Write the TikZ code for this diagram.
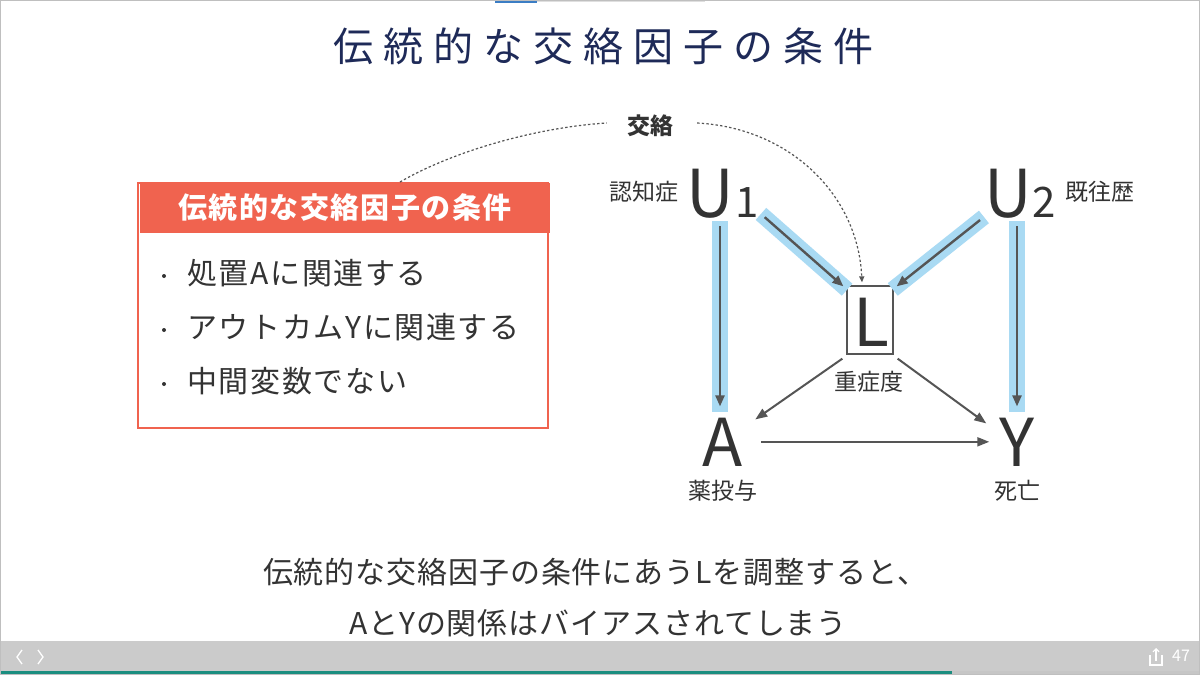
\documentclass[tikz,border=0pt]{standalone}
\usepackage{fontspec}
\setmainfont{Noto Sans CJK JP}
\newfontfamily\titlefont{Noto Sans CJK JP}[LetterSpace=25]
\newfontfamily\headfont{Noto Sans CJK JP}[LetterSpace=5]
\newfontfamily\bulfont{Noto Sans CJK JP}[LetterSpace=5.5]
\newfontfamily\botfont{Noto Sans CJK JP}[LetterSpace=3]
\usetikzlibrary{arrows.meta,calc}
\definecolor{arrgray}{HTML}{555555}
\definecolor{hlblue}{HTML}{A9DAF3}
\definecolor{txt}{HTML}{333333}
\definecolor{navy}{HTML}{1E2A58}
\definecolor{boxred}{HTML}{F0634F}
\definecolor{barg}{HTML}{CBCBCB}
\definecolor{teal}{HTML}{1B8E80}
\definecolor{dotgray}{HTML}{555555}
\definecolor{topblue}{HTML}{3B7DC4}
\begin{document}
\begin{tikzpicture}[x=1pt,y=-1pt,
  arr/.style={draw=arrgray, line width=2.4pt, -{Triangle[length=11pt,width=9pt]}},
  thin/.style={draw=arrgray, line width=2pt, -{Triangle[length=12pt,width=9pt]}},
  hl/.style={draw=hlblue, line width=16pt, shorten <=-5pt, shorten >=-5pt},
  big/.style={font=\fontsize{66}{66}\selectfont, text=txt, inner sep=0pt},
  sub/.style={font=\fontsize{42}{42}\selectfont, text=txt, inner sep=0pt},
  lab/.style={font=\fontsize{23}{23}\selectfont, text=txt, inner sep=0pt},
  bul/.style={font=\bulfont\fontsize{30}{30}\selectfont, text=txt, inner sep=0pt, anchor=west},
  bdot/.style={circle, fill=txt, inner sep=0pt, minimum size=4pt},
  dot/.style={draw=dotgray, line width=1.2pt, dash pattern=on 2.4pt off 2.2pt},
]
\useasboundingbox (0,0) rectangle (1200,675);
\fill[white] (0,0) rectangle (1200,675);
% top indicator
\fill[topblue] (495,0) rectangle (537,3);
\fill[gray!25] (537,0) rectangle (705,1.5);
% title
\node[font=\titlefont\fontsize{40}{40}\selectfont, text=navy, inner sep=0pt] (title) at (603,46) {伝統的な交絡因子の条件};
% left box
\node[draw=boxred, line width=2pt, minimum width=410pt, minimum height=245pt, inner sep=0pt] (cbox) at (343,305.5) {};
\node[fill=boxred, minimum width=410pt, minimum height=50pt, inner sep=0pt, text=white, font=\headfont\bfseries\fontsize{29}{29}\selectfont] (chead) at (345,208) {伝統的な交絡因子の条件};
\node[bdot] (b1d) at (164,276) {};
\node[bul] (b1) at (187,273) {処置Aに関連する};
\node[bdot] (b2d) at (164,330) {};
\node[bul] (b2) at (187,327) {アウトカムYに関連する};
\node[bdot] (b3d) at (164,384) {};
\node[bul] (b3) at (187,381) {中間変数でない};
% DAG nodes
\node[big, anchor=base] (U1) at (710,217) {U};
\node[sub, anchor=base west] (one) at (735,217) {1};
\node[lab, anchor=east] (n1) at (679,192) {認知症};
\node[big, anchor=base] (U2) at (1008,217) {U};
\node[sub, anchor=base west] (two) at (1032,217) {2};
\node[lab, anchor=west] (n2) at (1065,192) {既往歴};
\node[draw=arrgray, line width=1.3pt, minimum width=46pt, minimum height=68pt, inner sep=0pt] (Lbox) at (870,320) {};
\node[big, anchor=base] (L) at (871,346) {L};
\node[lab] (nL) at (869,382) {重症度};
\node[big, anchor=base] (A) at (723,466) {A};
\node[lab] (nA) at (723,491) {薬投与};
\node[big, anchor=base] (Y) at (1017,466) {Y};
\node[lab] (nY) at (1017,491) {死亡};
\node[font=\bfseries\fontsize{23}{23}\selectfont, text=txt, inner sep=0pt] (kou) at (650,126) {交絡};
% highlights
\draw[hl] ($(U1.south -| A.north)+(-3,8)$) -- ($(A.north)+(-3,-10)$);
\draw[hl] ($(U2.south -| Y.north)+(0,8)$) -- ($(Y.north)+(0,-10)$);
\draw[hl] ($(one.south east)+(6,0)$) -- ($(Lbox.north west)+(-3,1)$);
\draw[hl] ($(U2.south west)+(-4,2)$) -- ($(Lbox.north east)+(3,1)$);
% arrows
\draw[arr] ($(U1.south -| A.north)+(-3,8)$) -- ($(A.north)+(-3,-11)$);
\draw[arr] ($(U2.south -| Y.north)+(0,8)$) -- ($(Y.north)+(0,-11)$);
\draw[arr] ($(one.south east)+(6,0)$) -- ($(Lbox.north west)+(-3,1)$);
\draw[arr] ($(U2.south west)+(-4,2)$) -- ($(Lbox.north east)+(3,1)$);
\draw[thin] ($(Lbox.south west)+(-4,4)$) -- ($(A.north east)+(12,2)$);
\draw[thin] ($(Lbox.south east)+(4,4)$) -- ($(Y.north west)+(-13,6)$);
\draw[thin] ($(A.east)+(18,0)$) -- ($(Y.west)+(-10,0)$);
% confounding dashed curves
\draw[dot] ($(cbox.north)+(57,0)$) .. controls (455,150) and (540,127) .. ($(kou.west)+(-20,-3)$);
\draw[dot, -{Triangle[length=6pt,width=5pt]}] ($(kou.east)+(24,-3)$) .. controls (790,128) and (858,195) .. ($(Lbox.north)+(-8,-3)$);
% bottom text
\node[font=\botfont\fontsize{30}{30}\selectfont, text=txt, inner sep=0pt] (s1) at (595,572) {伝統的な交絡因子の条件にあうLを調整すると、};
\node[font=\botfont\fontsize{30}{30}\selectfont, text=txt, inner sep=0pt] (s2) at (598,623) {AとYの関係はバイアスされてしまう};
% bottom bar
\fill[barg] (0,641) rectangle (1200,671);
\fill[teal] (0,671) rectangle (952,675);
\fill[gray!45] (952,671) rectangle (1200,675);
\draw[white, line width=1.3pt] (22,650) -- (17,657) -- (22,664);
\draw[white, line width=1.3pt] (38,650) -- (43,657) -- (38,664);
\draw[white, line width=1.2pt] (1150,655) -- (1150,665) -- (1162,665) -- (1162,655);
\draw[white, line width=1.2pt, -{Straight Barb[length=3pt]}] (1156,661) -- (1156,648);
\node[font=\fontsize{16}{16}\selectfont, text=white, inner sep=0pt] (pg) at (1181,656) {47};
\draw[gray!50, line width=1.5pt] (0,0) rectangle (1200,675);
\end{tikzpicture}
\end{document}
